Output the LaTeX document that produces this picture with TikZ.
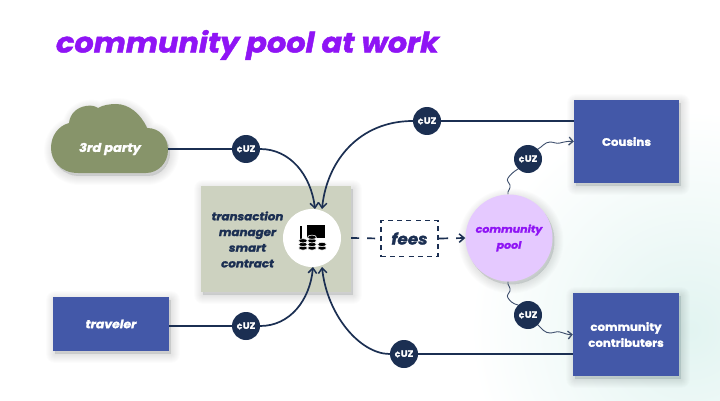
\documentclass[tikz,border=0pt]{standalone}
\usepackage{fontspec}
\setmainfont{Poppins}[FakeStretch=1.08,BoldFeatures={FakeBold=1.6},BoldItalicFeatures={FakeBold=1.6}]
\usetikzlibrary{arrows.meta}
\definecolor{navy}{HTML}{1B2F52}
\definecolor{royal}{HTML}{4358A8}
\definecolor{olive}{HTML}{87946A}
\definecolor{sage}{HTML}{CDD2C0}
\definecolor{violet}{HTML}{8F14F5}
\definecolor{lilac}{HTML}{E5C9FF}
\definecolor{mint}{HTML}{E2F4F1}
\tikzset{
  party/.style={text=white,font=\bfseries\fontsize{10.9}{16}\selectfont,align=center,inner sep=0pt},
  chip/.style={circle,fill=navy,minimum size=28pt,inner sep=0pt,text=white,font=\bfseries\fontsize{9}{9}\selectfont},
  flow/.style={draw=navy,line width=1.7pt},
  tip/.style={-{Straight Barb[length=5pt,width=8.5pt,line width=1.5pt]}},
  wavy flow/.style={draw=navy!85,line width=.9pt,line cap=round},
  wavy tip/.style={-{Straight Barb[length=4pt,width=8pt,line width=1.3pt]}},
  coin/.style={fill=black,draw=white,line width=.55pt}
}
% soft drop shadow: the given path repeated with growing outline and low opacity
\newcommand{\softshadow}[1]{%
  \foreach \w in {18,16,...,2}{
    \path[fill=black!70!teal,draw=black!70!teal,opacity=.011,line width=\w pt,line join=round,shift={(2pt,-3pt)}] #1;
  }}
\newcommand{\coinstack}[3]{%
  \foreach \k in {1,...,#3}{
    \fill[coin] (#1,{#2-(\k-1)*3.6}) ellipse[x radius=4.4pt,y radius=2.1pt];
  }}
\begin{document}
\begin{tikzpicture}[x=1pt,y=-1pt]
\useasboundingbox (0,0) rectangle (720,401);
\fill[white] (0,0) rectangle (720,401);
% pale wash behind the lower right corner
\begin{scope}
  \clip (0,0) rectangle (720,401);
  \shade[inner color=mint,outer color=white] (690,330) circle[radius=220pt];
\end{scope}

\node[anchor=west,text=violet,font=\bfseries\itshape\fontsize{28.1}{30}\selectfont] (title) at (52.5,45) {community pool at work};

% shadows first, then the shapes that cast them
\softshadow{(201,186) rectangle (351,292)}
\softshadow{(509,238) circle[radius=43.5pt]}
\softshadow{(53,297) rectangle (169,351)}
\softshadow{(574,100) rectangle (679,183)}
\softshadow{(573,293) rectangle (679,376)}
\softshadow{(78,173) .. controls (60,173) and (51,160) .. (51,148) .. controls (51,136) and (58,126) .. (69,123) .. controls (70,113) and (78,107) .. (86,106) .. controls (91,105) and (95,106) .. (98,108) .. controls (103,105) and (110,104) .. (116,104) .. controls (129,104) and (141,114) .. (147,128) .. controls (160,128) and (168,138) .. (168,150) .. controls (168,163) and (158,173) .. (146,173) -- cycle}

% manager panel, hub and pool
\node[fill=sage,minimum width=150pt,minimum height=106pt,inner sep=0pt] (panel) at (276,239) {};
\node[text=navy,align=center,font=\bfseries\itshape\fontsize{11}{15.7}\selectfont] (mgrtext) at (247.5,239.5) {transaction\\manager\\smart\\contract};
\node[circle,fill=white,minimum size=58pt,inner sep=0pt] (hub) at (312,238) {};
\node[circle,fill=lilac,minimum size=87pt,inner sep=0pt,text=violet,align=center,font=\bfseries\itshape\fontsize{10.2}{16}\selectfont] (pool) at (509,238) {community\\pool};

% outer parties
\path[fill=olive] (78,173)
  .. controls (60,173) and (51,160) .. (51,148)
  .. controls (51,136) and (58,126) .. (69,123)
  .. controls (70,113) and (78,107) .. (86,106)
  .. controls (91,105) and (95,106) .. (98,108)
  .. controls (103,105) and (110,104) .. (116,104)
  .. controls (129,104) and (141,114) .. (147,128)
  .. controls (160,128) and (168,138) .. (168,150)
  .. controls (168,163) and (158,173) .. (146,173) -- cycle;
\node[text=white,font=\bfseries\itshape\fontsize{12}{14}\selectfont] (third) at (110,149) {3rd party};
\coordinate (thirdout) at (168,149);
\node[party,fill=royal,font=\bfseries\itshape\fontsize{11.5}{14}\selectfont,minimum width=116pt,minimum height=54pt] (traveler) at (111,324) {traveler};
\node[party,fill=royal,minimum width=105pt,minimum height=83pt] (cousins) at (626.5,141.5) {\raisebox{-1.5pt}{Cousins}};
\node[party,fill=royal,minimum width=106pt,minimum height=83pt] (contrib) at (626,334.5) {community\\contributers};

% token flows into the hub
\node[chip] (c1) at (246,149) {¢UZ};
\node[chip] (c2) at (427,121) {¢UZ};
\node[chip] (c3) at (246,326) {¢UZ};
\node[chip] (c4) at (404,354) {¢UZ};
\node[chip] (c5) at (528,159) {¢UZ};
\node[chip] (c6) at (528,315) {¢UZ};

\draw[flow] (thirdout) -- (c1);
\draw[flow,tip] (c1.east) .. controls (290,149) and (311,175) .. (315,209);
\draw[flow] (cousins.west |- c2) -- (c2);
\draw[flow,tip] (c2.west) .. controls (360,121) and (327,160) .. (322,209);
\draw[flow] (traveler.east |- c3) -- (c3);
\draw[flow,tip] (c3.east) .. controls (290,326) and (310,300) .. (313,267);
\draw[flow] (contrib.west |- c4) -- (c4);
\draw[flow,tip] (c4.west) .. controls (360,354) and (327,315) .. (322,267);

% fee path
\node[draw=navy,line width=1.2pt,dash pattern=on 5pt off 4.2pt,minimum width=57pt,minimum height=36pt,inner sep=0pt,text=navy,font=\bfseries\itshape\fontsize{15.6}{15}\selectfont] (fees) at (409.5,238.5) {fees};
\draw[flow,dash pattern=on 8pt off 8pt] ([xshift=10pt]hub.east) -- (fees.west);
\draw[flow,dash pattern=on 9.5pt off 8pt,tip] (fees.east) -- (pool.west);

% payouts from the pool
\draw[wavy flow] (508,194) .. controls (507,191) and (511,189) .. (510,185)
  .. controls (509,182) and (506,181) .. (508,178)
  .. controls (510,175) and (513,172) .. (c5.south west);
\draw[wavy flow,wavy tip] (c5.north east)
  .. controls (542,147) and (545,142) .. (550,142)
  .. controls (554,142) and (556,144) .. (560,143)
  .. controls (564,142) and (568,141) .. (cousins.west);
\draw[wavy flow] (508,282) .. controls (507,285) and (511,287) .. (510,291)
  .. controls (509,294) and (506,295) .. (508,298)
  .. controls (510,301) and (513,304) .. (c6.north west);
\draw[wavy flow,wavy tip] (c6.south east)
  .. controls (542,329) and (545,333) .. (550,333)
  .. controls (554,333) and (556,331) .. (560,332)
  .. controls (564,333) and (568,335) .. (contrib.west);

% ledger and coins icon in the hub
\fill[black] (299.6,226) rectangle (301.6,240);
\fill[black] (307,225) rectangle (325,237.5);
\coinstack{303}{248}{3}
\coinstack{312}{248}{4}
\coinstack{322}{248}{2}
\end{tikzpicture}
\end{document}
